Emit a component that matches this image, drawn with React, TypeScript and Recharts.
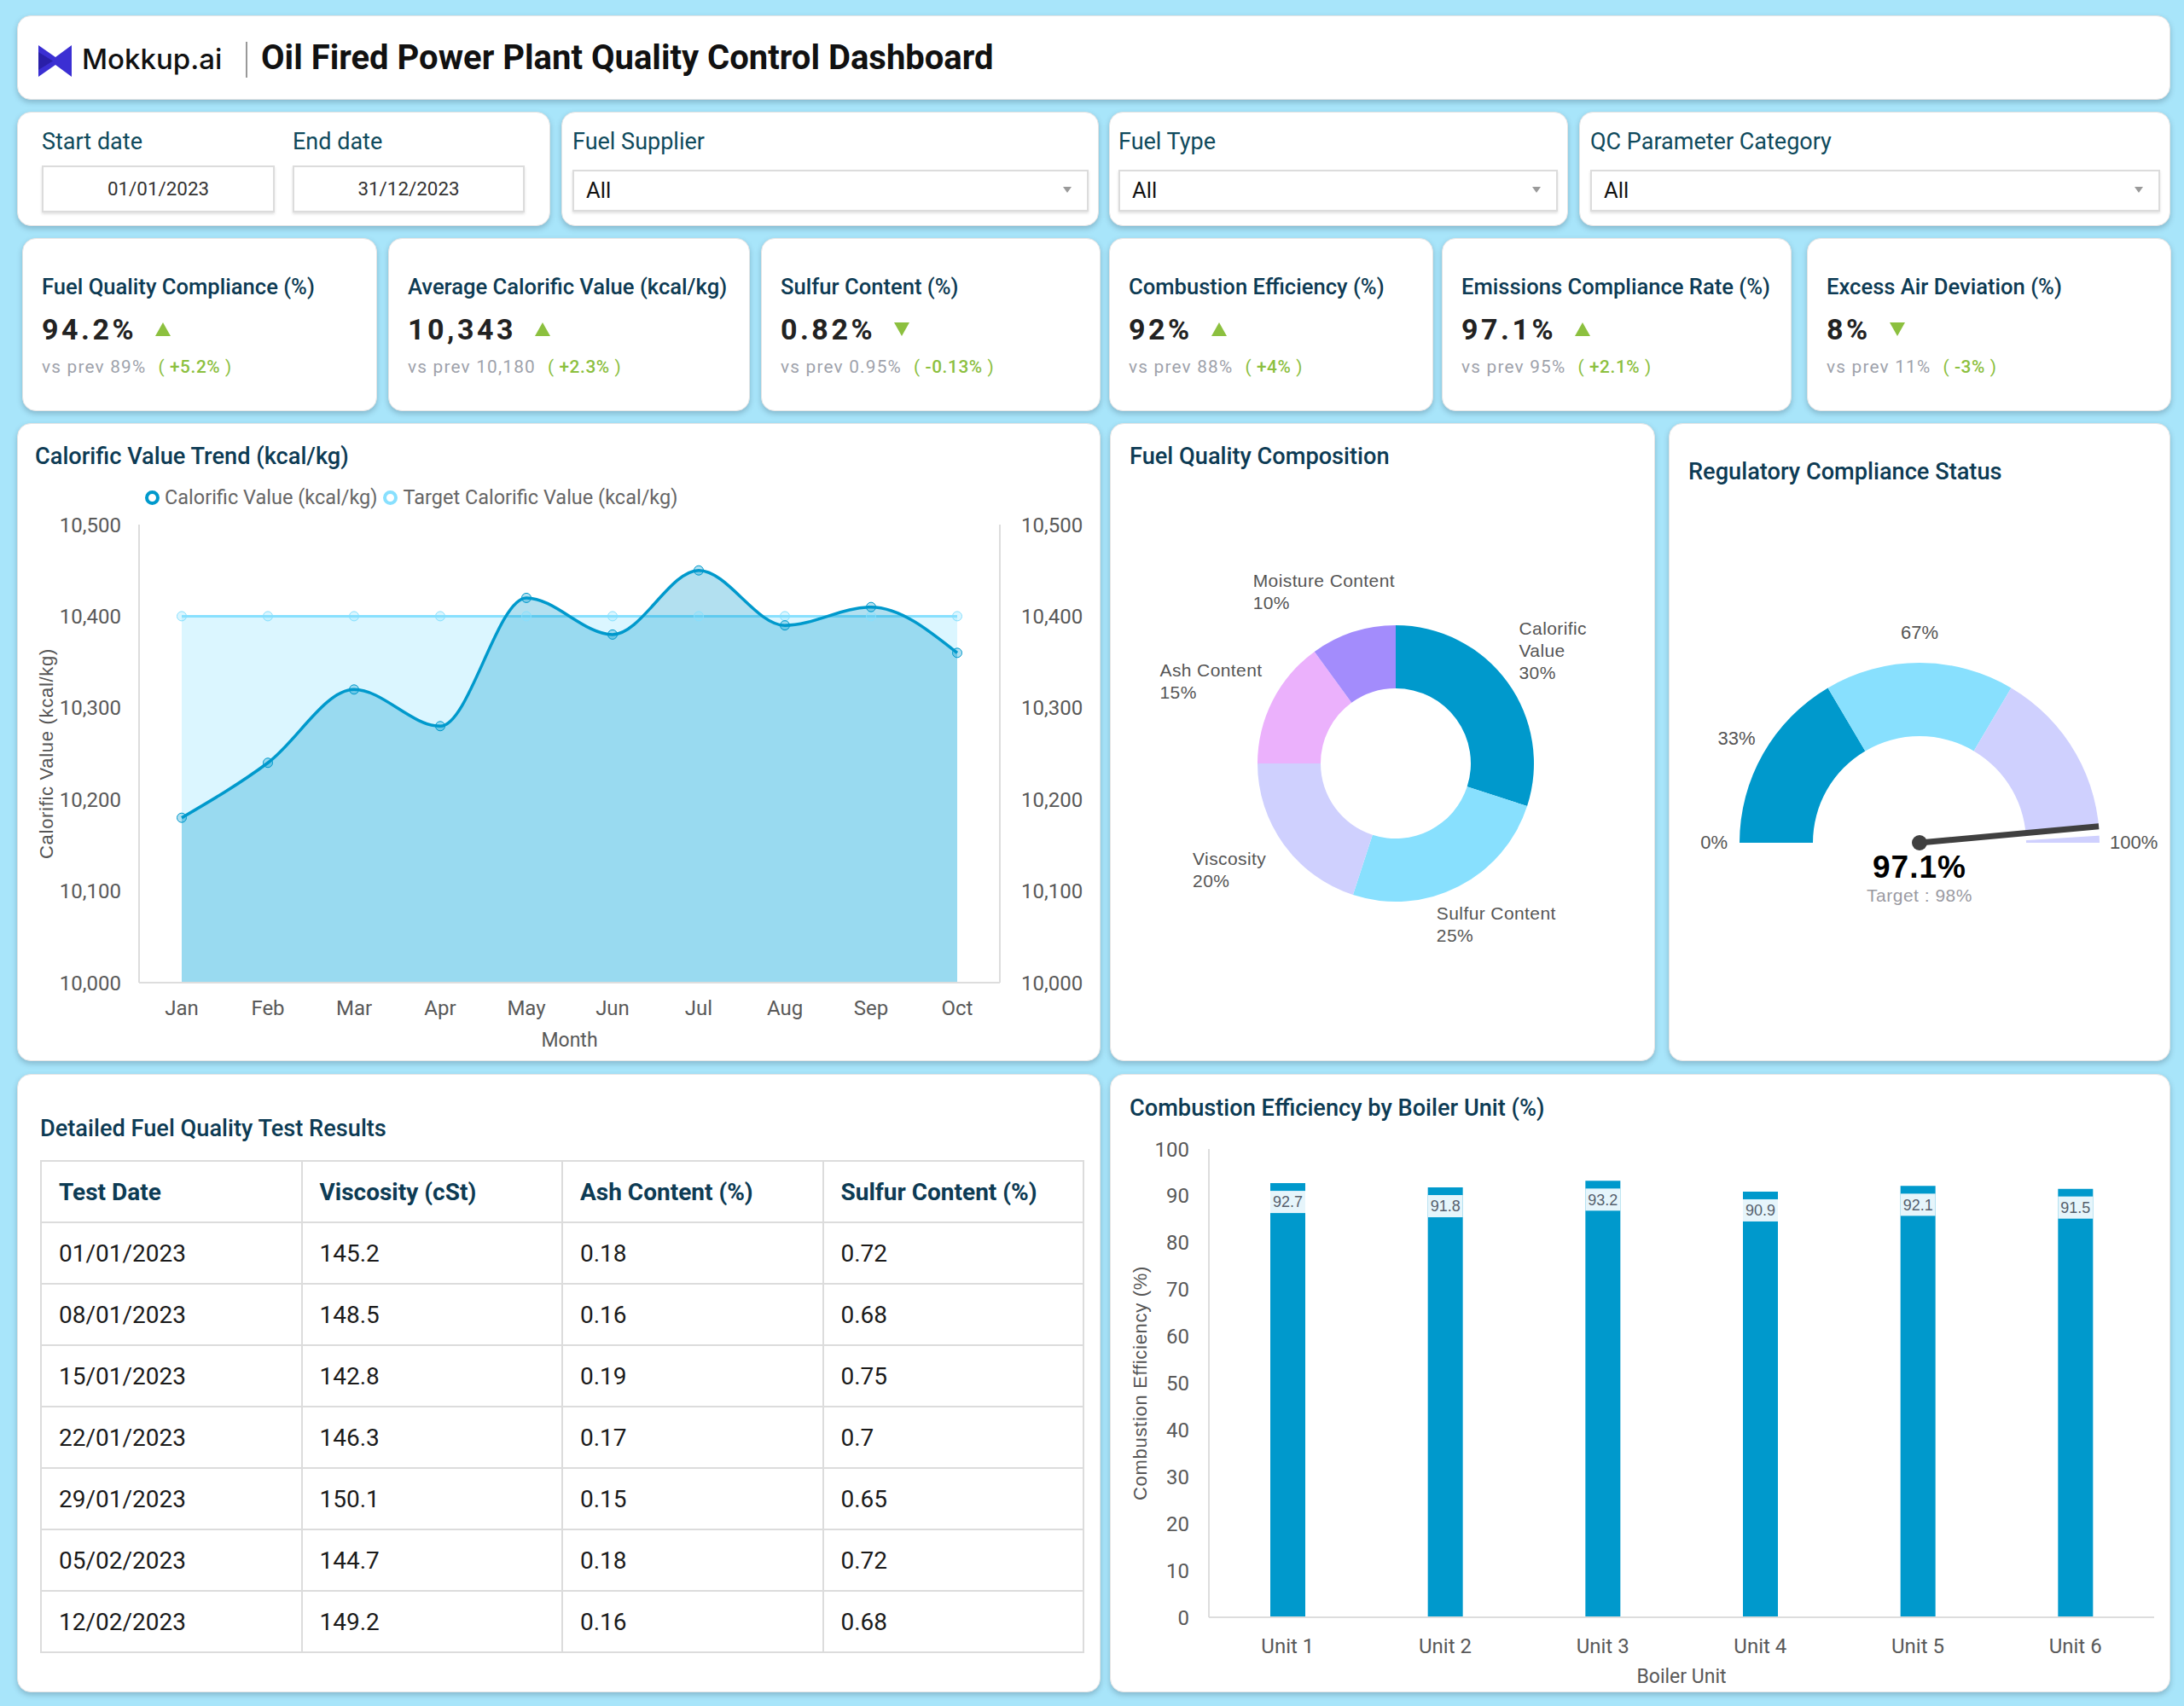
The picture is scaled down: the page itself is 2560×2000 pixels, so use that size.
import React from "react";
import {
  AreaChart,
  Area,
  XAxis,
  YAxis,
  PieChart,
  Pie,
  Cell,
  BarChart,
  Bar,
  LabelList,
} from "recharts";

// ---- data ----
const months = ["Jan", "Feb", "Mar", "Apr", "May", "Jun", "Jul", "Aug", "Sep", "Oct"];
const calorificValues = [10180, 10240, 10320, 10280, 10420, 10380, 10450, 10390, 10410, 10360];
const targetCalorific = [10400, 10400, 10400, 10400, 10400, 10400, 10400, 10400, 10400, 10400];
const calorificTicks = [10000, 10100, 10200, 10300, 10400, 10500];

const compositionNames = ["Calorific Value", "Sulfur Content", "Viscosity", "Ash Content", "Moisture Content"];
const compositionShares = [30, 25, 20, 15, 10];
const compositionColors = ["#0099cc", "#88e0fe", "#cfd0fe", "#ebb1fc", "#a38cfc"];

const gaugeBandEnds = [33, 67, 100];
const gaugeColors = ["#0099cc", "#88e0fe", "#cfd0fe"];
const complianceValue = 97.1;
const complianceTarget = 98;

const boilerUnits = ["Unit 1", "Unit 2", "Unit 3", "Unit 4", "Unit 5", "Unit 6"];
const unitEfficiency = [92.7, 91.8, 93.2, 90.9, 92.1, 91.5];
const efficiencyTicks = [0, 10, 20, 30, 40, 50, 60, 70, 80, 90, 100];

const kpiTitles = [
  "Fuel Quality Compliance (%)",
  "Average Calorific Value (kcal/kg)",
  "Sulfur Content (%)",
  "Combustion Efficiency (%)",
  "Emissions Compliance Rate (%)",
  "Excess Air Deviation (%)",
];
const kpiValues = ["94.2%", "10,343", "0.82%", "92%", "97.1%", "8%"];
const kpiPrevious = ["89%", "10,180", "0.95%", "88%", "95%", "11%"];
const kpiChanges = ["+5.2%", "+2.3%", "-0.13%", "+4%", "+2.1%", "-3%"];
const kpiUp = [true, true, false, true, true, false];

const tableHeaders = ["Test Date", "Viscosity (cSt)", "Ash Content (%)", "Sulfur Content (%)"];
const testDates = ["01/01/2023", "08/01/2023", "15/01/2023", "22/01/2023", "29/01/2023", "05/02/2023", "12/02/2023"];
const viscosityValues = ["145.2", "148.5", "142.8", "146.3", "150.1", "144.7", "149.2"];
const ashValues = ["0.18", "0.16", "0.19", "0.17", "0.15", "0.18", "0.16"];
const sulfurValues = ["0.72", "0.68", "0.75", "0.7", "0.65", "0.72", "0.68"];

const calorificData = months.map((m, i) => ({
  month: m,
  calorific: calorificValues[i],
  target: targetCalorific[i],
}));
const compositionData = compositionNames.map((n, i) => ({ name: n, value: compositionShares[i] }));
const gaugeData = gaugeBandEnds.map((end, i) => ({
  end,
  value: end - (i === 0 ? 0 : gaugeBandEnds[i - 1]),
}));
const needleData = [{ value: complianceValue }, { value: 100 - complianceValue }];
const efficiencyData = boilerUnits.map((u, i) => ({ unit: u, efficiency: unitEfficiency[i] }));

// ---- styles ----
const TITLE = "#0d3b54";
const TICK = { fontSize: 24, fill: "#595959" };
const ARIAL = "'Liberation Sans', Arial, sans-serif";
const RAD = Math.PI / 180;
const NO_MARGIN = { top: 0, right: 0, bottom: 0, left: 0 };

function Card({ x, y, w, h, children }: any) {
  return (
    <div
      style={{
        position: "absolute",
        left: x,
        top: y,
        width: w,
        height: h,
        background: "#fff",
        borderRadius: 16,
        border: "1px solid #e4e4e4",
        boxShadow: "0 3px 6px rgba(40,70,90,0.28)",
        boxSizing: "border-box",
      }}
    >
      {children}
    </div>
  );
}

function CardTitle({ x, y, children }: any) {
  return (
    <div
      style={{
        position: "absolute",
        left: x,
        top: y,
        fontSize: 27.2,
        fontWeight: 500,
        color: TITLE,
        lineHeight: "32px",
        whiteSpace: "nowrap",
      }}
    >
      {children}
    </div>
  );
}

function Dropdown({ x, w }: any) {
  return (
    <div
      style={{
        position: "absolute",
        left: x,
        top: 67,
        width: w,
        height: 49,
        border: "2px solid #dcdcdc",
        boxShadow: "0 2px 3px rgba(0,0,0,0.12)",
        boxSizing: "border-box",
        fontSize: 25.6,
        color: "#111",
        lineHeight: "45px",
        paddingLeft: 14,
      }}
    >
      All
      <svg style={{ position: "absolute", right: 18, top: 18 }} width={10} height={8}>
        <polygon points="0,0 10,0 5,7" fill="#9a9a9a" />
      </svg>
    </div>
  );
}

function FilterLabel({ x, children }: any) {
  return (
    <div style={{ position: "absolute", left: x, top: 17, fontSize: 27, color: "#0f4a5c", lineHeight: "34px" }}>
      {children}
    </div>
  );
}

function DateBox({ x, w, children }: any) {
  return (
    <div
      style={{
        position: "absolute",
        left: x,
        top: 62,
        width: w,
        height: 55,
        border: "2px solid #dcdcdc",
        boxShadow: "0 2px 3px rgba(0,0,0,0.12)",
        boxSizing: "border-box",
        textAlign: "center",
        lineHeight: "51px",
        fontSize: 22.4,
        color: "#333",
      }}
    >
      {children}
    </div>
  );
}

const kpiBoxes = [
  [26, 416],
  [455, 424],
  [892, 398],
  [1300, 380],
  [1690, 410],
  [2118, 427],
];

function Kpi({ i }: any) {
  const [x, w] = kpiBoxes[i];
  const green = "#8cc03f";
  return (
    <Card x={x} y={279} w={w} h={203}>
      <div style={{ position: "absolute", left: 22, top: 40, fontSize: 25.6, fontWeight: 500, color: TITLE, lineHeight: "32px", whiteSpace: "nowrap" }}>
        {kpiTitles[i]}
      </div>
      <div style={{ position: "absolute", left: 22, top: 84, display: "flex", alignItems: "center", height: 44 }}>
        <span style={{ fontSize: 34, fontWeight: 700, color: "#222", letterSpacing: 3.5 }}>{kpiValues[i]}</span>
        <svg width={18} height={16} style={{ marginLeft: 22 }}>
          {kpiUp[i] ? (
            <polygon points="9,0 18,16 0,16" fill={green} />
          ) : (
            <polygon points="0,0 18,0 9,16" fill={green} />
          )}
        </svg>
      </div>
      <div style={{ position: "absolute", left: 22, top: 137, fontSize: 20.8, lineHeight: "26px", whiteSpace: "nowrap" }}>
        <span style={{ color: "#9ea2ab", letterSpacing: 1.2 }}>vs prev {kpiPrevious[i]}</span>
        <span style={{ color: green, marginLeft: 14, letterSpacing: 0.6 }}>
          ( <span style={{ fontWeight: 500 }}>{kpiChanges[i]}</span> )
        </span>
      </div>
    </Card>
  );
}

// ---- chart label renderers ----
const renderCompositionLabel = (props: any) => {
  const { cx, cy, midAngle, outerRadius, index } = props;
  const name = compositionData[index].name;
  const value = compositionData[index].value;
  const r = outerRadius + 50;
  const c = Math.cos(-midAngle * RAD);
  const s = Math.sin(-midAngle * RAD);
  const x = cx + r * c;
  const y = cy + r * s;
  const est = (t: string) => t.length * 10.6;
  const rightLeft = x - 27 - 24 * Math.max(0, s);
  let lines = [name];
  if (c > 0.35 && rightLeft + est(name) > 629) lines = name.split(" ");
  lines = [...lines, `${value}%`];
  const bw = Math.max(...lines.map(est));
  const left = c > 0.35 ? rightLeft : c < -0.35 ? x + 29 - bw : x - 17 - bw / 2;
  const lh = 26;
  const first = y - ((lines.length - 1) * lh) / 2 - (c > 0.35 && s < 0 ? 8 : 0);
  return (
    <text textAnchor="start" fontSize={21} fontFamily={ARIAL} fill="#555" letterSpacing={0.4}>
      {lines.map((l, k) => (
        <tspan key={k} x={left} y={first + k * lh} dy="0.35em">
          {l}
        </tspan>
      ))}
    </text>
  );
};

const renderGaugeLabel = (props: any) => {
  const { cx, cy, midAngle, startAngle, endAngle, outerRadius, index } = props;
  const last = gaugeData.length - 1;
  const items: any[] = [];
  const st = { fontSize: 22, fontFamily: ARIAL, fill: "#555" };
  if (index === 0) {
    items.push(
      <text key="s" x={cx + (outerRadius + 14) * Math.cos(-startAngle * RAD)} y={cy} dy="0.3em" textAnchor="end" {...st}>
        0%
      </text>
    );
  }
  if (index < last) {
    const r = outerRadius + 36;
    items.push(
      <text key="m" x={cx + r * Math.cos(-midAngle * RAD)} y={cy + r * Math.sin(-midAngle * RAD)} dy="0.35em" textAnchor="middle" {...st}>
        {gaugeData[index].end}%
      </text>
    );
  } else {
    items.push(
      <text key="e" x={cx + (outerRadius + 12) * Math.cos(-endAngle * RAD)} y={cy} dy="0.3em" textAnchor="start" {...st}>
        {gaugeData[index].end}%
      </text>
    );
  }
  return <g>{items}</g>;
};

const renderNeedle = (props: any) => {
  if (props.index !== 0) return null;
  const { cx, cy, endAngle, innerRadius, outerRadius } = props;
  const tip = { x: cx + outerRadius * Math.cos(-endAngle * RAD), y: cy + outerRadius * Math.sin(-endAngle * RAD) };
  const ta = 180 - (180 * complianceTarget) / 100;
  const t1 = { x: cx + (innerRadius - 2) * Math.cos(-ta * RAD), y: cy + (innerRadius - 2) * Math.sin(-ta * RAD) };
  const t2 = { x: cx + (outerRadius + 2) * Math.cos(-ta * RAD), y: cy + (outerRadius + 2) * Math.sin(-ta * RAD) };
  return (
    <g>
      <line x1={t1.x} y1={t1.y} x2={t2.x} y2={t2.y} stroke="#fff" strokeWidth={10} />
      <line x1={cx} y1={cy} x2={tip.x} y2={tip.y} stroke="#404040" strokeWidth={7} />
      <circle cx={cx} cy={cy} r={9} fill="#404040" />
      <text x={cx} y={cy + 41} textAnchor="middle" fontSize={37} fontWeight={700} fontFamily={ARIAL} fill="#000" letterSpacing={1}>
        {complianceValue}%
      </text>
      <text x={cx} y={cy + 69} textAnchor="middle" fontSize={21} fontFamily={ARIAL} fill="#9a9aa2" letterSpacing={0.5}>
        Target : {complianceTarget}%
      </text>
    </g>
  );
};

const renderBarValue = (props: any) => {
  const x = Number(props.x);
  const y = Number(props.y);
  const width = Number(props.width);
  return (
    <g>
      <rect x={x} y={y + 9} width={width} height={26} fill="#e6f5fb" />
      <text x={x + width / 2} y={y + 22} dy="0.35em" textAnchor="middle" fontSize={18} fontFamily={ARIAL} fill="#555f6d">
        {props.value}
      </text>
    </g>
  );
};

function LegendItem({ color, label }: any) {
  return (
    <span style={{ display: "inline-flex", alignItems: "center", marginRight: 6 }}>
      <svg width={19} height={19}>
        <circle cx={9.5} cy={9.5} r={6.5} fill="#fff" stroke={color} strokeWidth={4} />
      </svg>
      <span style={{ marginLeft: 5 }}>{label}</span>
    </span>
  );
}

export default function App() {
  return (
    <div
      style={{
        position: "relative",
        width: 2560,
        height: 2000,
        background: "#a8e5fa",
        fontFamily: "Roboto, sans-serif",
        overflow: "hidden",
      }}
    >
      <style>{`body{margin:0}`}</style>

      {/* header */}
      <Card x={20} y={18} w={2524} h={99}>
        <svg style={{ position: "absolute", left: 24, top: 34 }} width={40} height={37}>
          <path d="M0 0 L20 14 L39 0 L39 37 L20 23 L0 37 Z" fill="#3b2fd3" />
          <path d="M0 8 L17 18.5 L0 29 Z" fill="#2a1fa8" />
        </svg>
        <div style={{ position: "absolute", left: 75, top: 28, fontFamily: "Inter, sans-serif", fontWeight: 500, fontSize: 33, color: "#111", lineHeight: "44px" }}>
          Mokkup.ai
        </div>
        <div style={{ position: "absolute", left: 267, top: 30, width: 1.5, height: 42, background: "#999" }} />
        <div style={{ position: "absolute", left: 285, top: 25, fontSize: 40, fontWeight: 700, color: "#111", lineHeight: "48px", whiteSpace: "nowrap" }}>
          Oil Fired Power Plant Quality Control Dashboard
        </div>
      </Card>

      {/* filters */}
      <Card x={20} y={131} w={625} h={134}>
        <FilterLabel x={28}>Start date</FilterLabel>
        <FilterLabel x={322}>End date</FilterLabel>
        <DateBox x={28} w={273}>01/01/2023</DateBox>
        <DateBox x={322} w={272}>31/12/2023</DateBox>
      </Card>
      <Card x={658} y={131} w={630} h={134}>
        <FilterLabel x={12}>Fuel Supplier</FilterLabel>
        <Dropdown x={12} w={605} />
      </Card>
      <Card x={1300} y={131} w={538} h={134}>
        <FilterLabel x={10}>Fuel Type</FilterLabel>
        <Dropdown x={10} w={515} />
      </Card>
      <Card x={1851} y={131} w={693} h={134}>
        <FilterLabel x={12}>QC Parameter Category</FilterLabel>
        <Dropdown x={12} w={668} />
      </Card>

      {/* KPIs */}
      {kpiTitles.map((_, i) => (
        <Kpi key={i} i={i} />
      ))}

      {/* calorific trend */}
      <Card x={20} y={496} w={1270} h={748}>
        <CardTitle x={20} y={22}>Calorific Value Trend (kcal/kg)</CardTitle>
        <div style={{ position: "absolute", left: 148, top: 72, fontSize: 23.5, color: "#666", display: "flex", whiteSpace: "nowrap" }}>
          <LegendItem color="#0099cc" label="Calorific Value (kcal/kg)" />
          <LegendItem color="#88e0fe" label="Target Calorific Value (kcal/kg)" />
        </div>
        <div style={{ position: "absolute", left: -1, top: 59 }}>
          <AreaChart width={1270} height={680} data={calorificData} margin={{ top: 59, right: 20, left: 0, bottom: 4 }}>
            <XAxis
              dataKey="month"
              padding={{ left: 50, right: 50 }}
              axisLine={{ stroke: "#dddddd", strokeWidth: 2 }}
              tickLine={false}
              tickMargin={15}
              height={80}
              tick={TICK}
              label={{ value: "Month", position: "insideBottom", offset: 5, fontSize: 23, fill: "#595959" }}
            />
            <YAxis
              yAxisId="left"
              domain={[10000, 10500]}
              ticks={calorificTicks}
              tickFormatter={(v) => v.toLocaleString("en-US")}
              width={143}
              axisLine={{ stroke: "#dddddd", strokeWidth: 2 }}
              tickLine={false}
              tickMargin={15}
              tick={TICK}
              label={{
                value: "Calorific Value (kcal/kg)",
                angle: -90,
                position: "insideLeft",
                offset: 34,
                style: { textAnchor: "middle", fontSize: 22, fill: "#555", fontFamily: ARIAL, letterSpacing: 0.7 },
              }}
            />
            <YAxis
              yAxisId="right"
              orientation="right"
              domain={[10000, 10500]}
              ticks={calorificTicks}
              tickFormatter={(v) => v.toLocaleString("en-US")}
              width={98}
              axisLine={{ stroke: "#dddddd", strokeWidth: 2 }}
              tickLine={false}
              tickMargin={19}
              tick={TICK}
            />
            <Area
              yAxisId="right"
              type="linear"
              dataKey="target"
              stroke="#88e0fe"
              strokeWidth={3}
              fill="#88e0fe"
              fillOpacity={0.3}
              dot={{ r: 5.5, fill: "#88e0fe", stroke: "#88e0fe", strokeWidth: 1 }}
              isAnimationActive={false}
            />
            <Area
              yAxisId="left"
              type="monotone"
              dataKey="calorific"
              stroke="#0099cc"
              strokeWidth={3.5}
              fill="#0099cc"
              fillOpacity={0.3}
              dot={{ r: 5.5, fill: "#0099cc", stroke: "#0099cc", strokeWidth: 1 }}
              isAnimationActive={false}
            />
          </AreaChart>
        </div>
      </Card>

      {/* composition donut */}
      <Card x={1301} y={496} w={639} h={748}>
        <CardTitle x={22} y={22}>Fuel Quality Composition</CardTitle>
        <div style={{ position: "absolute", left: -1, top: -1 }}>
          <PieChart width={639} height={748} margin={NO_MARGIN}>
            <Pie
              data={compositionData}
              dataKey="value"
              nameKey="name"
              cx={335}
              cy={399}
              innerRadius={88}
              outerRadius={162}
              startAngle={90}
              endAngle={-270}
              stroke="none"
              label={renderCompositionLabel}
              labelLine={false}
              isAnimationActive={false}
            >
              {compositionData.map((_, i) => (
                <Cell key={i} fill={compositionColors[i]} />
              ))}
            </Pie>
          </PieChart>
        </div>
      </Card>

      {/* compliance gauge */}
      <Card x={1956} y={496} w={588} h={748}>
        <CardTitle x={22} y={40}>Regulatory Compliance Status</CardTitle>
        <div style={{ position: "absolute", left: -1, top: -1 }}>
          <PieChart width={588} height={748} margin={NO_MARGIN}>
            <Pie
              data={gaugeData}
              dataKey="value"
              cx={294}
              cy={492}
              innerRadius={125}
              outerRadius={211}
              startAngle={180}
              endAngle={0}
              stroke="none"
              label={renderGaugeLabel}
              labelLine={false}
              isAnimationActive={false}
            >
              {gaugeData.map((_, i) => (
                <Cell key={i} fill={gaugeColors[i]} />
              ))}
            </Pie>
            <Pie
              data={needleData}
              dataKey="value"
              cx={294}
              cy={492}
              innerRadius={125}
              outerRadius={211}
              startAngle={180}
              endAngle={0}
              fill="none"
              stroke="none"
              label={renderNeedle}
              labelLine={false}
              isAnimationActive={false}
            />
          </PieChart>
        </div>
      </Card>

      {/* table */}
      <Card x={20} y={1259} w={1270} h={725}>
        <CardTitle x={26} y={47}>Detailed Fuel Quality Test Results</CardTitle>
        <table
          style={{
            position: "absolute",
            left: 26,
            top: 100,
            width: 1224,
            borderCollapse: "collapse",
            fontSize: 28,
            tableLayout: "fixed",
          }}
        >
          <thead>
            <tr style={{ height: 72 }}>
              {tableHeaders.map((h) => (
                <th key={h} style={{ border: "2px solid #dcdcdc", textAlign: "left", paddingLeft: 20, fontWeight: 700, color: TITLE }}>
                  {h}
                </th>
              ))}
            </tr>
          </thead>
          <tbody>
            {testDates.map((d, i) => (
              <tr key={d} style={{ height: 72 }}>
                {[d, viscosityValues[i], ashValues[i], sulfurValues[i]].map((c, k) => (
                  <td key={k} style={{ border: "2px solid #dcdcdc", paddingLeft: 20, color: "#1a1a1a" }}>
                    {c}
                  </td>
                ))}
              </tr>
            ))}
          </tbody>
        </table>
      </Card>

      {/* efficiency bars */}
      <Card x={1301} y={1259} w={1243} h={725}>
        <CardTitle x={22} y={23}>Combustion Efficiency by Boiler Unit (%)</CardTitle>
        <div style={{ position: "absolute", left: -1, top: 59 }}>
          <BarChart width={1243} height={660} data={efficiencyData} margin={{ top: 28, right: 19, left: 0, bottom: 3 }}>
            <XAxis
              dataKey="unit"
              axisLine={{ stroke: "#dddddd", strokeWidth: 2 }}
              tickLine={false}
              tickMargin={19}
              height={80}
              tick={TICK}
              label={{ value: "Boiler Unit", position: "insideBottom", offset: 3, fontSize: 23, fill: "#595959" }}
            />
            <YAxis
              domain={[0, 100]}
              ticks={efficiencyTicks}
              width={116}
              axisLine={{ stroke: "#dddddd", strokeWidth: 2 }}
              tickLine={false}
              tickMargin={17}
              tick={TICK}
              label={{
                value: "Combustion Efficiency (%)",
                angle: -90,
                position: "insideLeft",
                offset: 35,
                style: { textAnchor: "middle", fontSize: 22, fill: "#555", fontFamily: ARIAL, letterSpacing: 0.7 },
              }}
            />
            <Bar dataKey="efficiency" fill="#0099cc" barSize={41} isAnimationActive={false}>
              <LabelList dataKey="efficiency" content={renderBarValue} />
            </Bar>
          </BarChart>
        </div>
      </Card>
    </div>
  );
}
